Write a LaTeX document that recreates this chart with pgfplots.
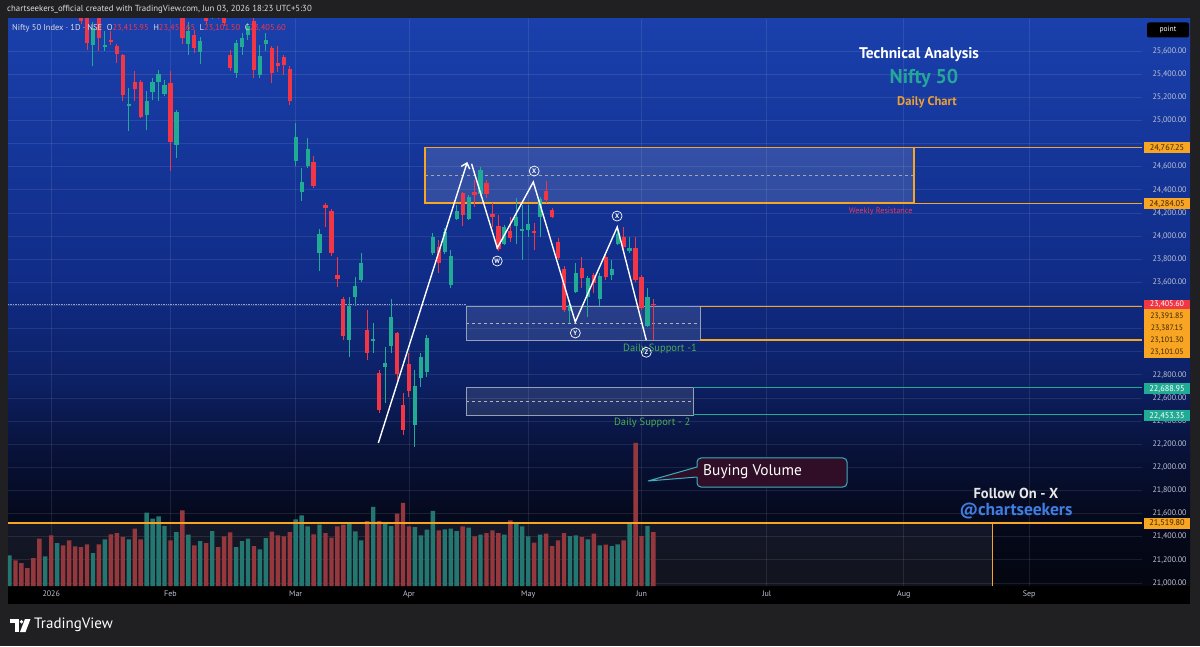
\documentclass[border=0pt]{standalone}
\usepackage{pgfplots}
\pgfplotsset{compat=1.18}
\usepackage{pgfplotstable}
\usepackage{fontspec}
\setmainfont{PT Sans}
\usetikzlibrary{arrows.meta}

\definecolor{outerbg}{RGB}{32,32,34}
\definecolor{cA}{RGB}{4,6,16}
\definecolor{cB}{RGB}{5,9,28}
\definecolor{cC}{RGB}{8,18,58}
\definecolor{cD}{RGB}{12,32,100}
\definecolor{cE}{RGB}{16,44,135}
\definecolor{cF}{RGB}{26,64,172}
\definecolor{axtext}{RGB}{190,195,210}
\definecolor{hdrtext}{RGB}{220,220,222}
\definecolor{upc}{RGB}{34,171,148}
\definecolor{dnc}{RGB}{242,54,69}
\definecolor{vup}{RGB}{36,118,112}
\definecolor{vdn}{RGB}{148,56,62}
\definecolor{tvorange}{RGB}{247,165,35}
\definecolor{tvteal}{RGB}{34,171,148}
\definecolor{labeldark}{RGB}{60,35,0}
\definecolor{supgreen}{RGB}{76,175,80}
\definecolor{wkred}{RGB}{230,60,90}
\definecolor{niftyteal}{RGB}{38,166,154}
\definecolor{dailyorange}{RGB}{240,160,50}
\definecolor{handle}{RGB}{64,125,225}
\definecolor{callfill}{RGB}{48,14,40}
\definecolor{callborder}{RGB}{60,175,195}
\definecolor{boxborder}{RGB}{150,160,180}

\pgfdeclareverticalshading{chartbg}{100bp}{color(0bp)=(cA); color(25bp)=(cA); color(31bp)=(cB); color(37bp)=(cC); color(43bp)=(cD); color(52bp)=(cE); color(75bp)=(cF); color(100bp)=(cF)}

% green candles: index, open, high, low, close
\pgfplotstableread{
i o h l c
14 25652 25851 25471 25799
16 25635 25773 25600 25652
20 25125 25280 24908 25142
23 25047 25254 24917 25168
24 25246 25367 25177 25332
25 25332 25436 25168 25401
26 25228 25349 25211 25306
28 24787 25090 24675 25073
30 25661 25851 25566 25773
32 25592 25721 25488 25687
34 25900 26100 25880 26050
38 25410 25695 25367 25669
39 25635 25756 25566 25713
40 25739 25842 25695 25816
42 25393 25652 25367 25557
43 25661 25756 25600 25695
48 24649 24978 24606 24857
49 24381 24588 24303 24467
50 24606 24848 24588 24753
52 23854 24061 23698 24018
57 23101 23473 22954 23395
58 23473 23646 23395 23568
59 23620 23854 23603 23767
61 23092 23248 22989 23110
63 22868 23041 22557 22902
64 23049 23456 22989 23300
68 22366 22842 22176 22704
69 22773 22989 22695 22954
70 22825 23144 22781 23118
71 23854 24027 23836 23992
73 23862 24070 23845 24035
74 23577 23879 23551 23827
75 24148 24269 24139 24217
77 24148 24355 24139 24338
79 24364 24597 24338 24571
83 23931 24096 23923 24078
85 24087 24329 23931 24165
86 24044 24269 23793 24061
87 24052 24269 23992 24104
89 24165 24338 23992 24321
94 23352 23447 23248 23404
95 23516 23767 23508 23681
97 23473 23655 23300 23637
99 23456 23681 23395 23655
101 23663 23793 23620 23715
102 23931 24052 23923 24018
104 23870 23992 23854 23897
107 23222 23551 23213 23473
}\upc

% red candles: index, open, high, low, close
\pgfplotstableread{
i o h l c
12 26050 26100 25830 25860
13 26000 26050 25609 25669
15 25950 26000 25600 25713
17 25695 25773 25652 25678
18 25643 25661 25496 25574
19 25566 25574 25168 25220
21 25332 25427 25168 25272
22 25332 25349 25021 25030
27 25324 25427 24563 24813
29 25950 26000 25661 25713
31 25739 25782 25583 25626
33 26000 26050 25834 25860
35 26050 26080 25880 25900
36 25950 26000 25816 25842
37 25566 25609 25427 25453
41 25860 25900 25367 25436
44 25626 25643 25324 25410
45 25496 25643 25419 25470
46 25548 25566 25393 25480
47 25445 25470 25133 25168
51 24640 24692 24416 24433
53 24269 24286 24078 24243
54 24217 24234 23828 23854
55 23663 23819 23559 23629
56 23456 23473 23101 23136
60 23188 23361 22928 22989
62 22816 22842 22470 22496
65 23162 23170 22755 22807
66 22539 22643 22280 22323
67 22894 22989 22608 22660
72 23905 23966 23681 23767
76 24372 24381 24087 24182
78 24381 24485 24251 24355
80 24459 24485 24329 24364
81 24191 24286 24078 24165
82 24087 24182 23871 23888
84 24044 24165 23948 23983
88 24044 24113 23879 24027
90 24390 24476 24286 24312
91 24225 24243 24156 24165
92 23948 23983 23793 23810
93 23715 23741 23343 23361
96 23724 23819 23551 23637
98 23663 23681 23508 23594
100 23819 23836 23620 23646
103 23992 24078 23879 23905
105 23897 23992 23603 23620
106 23646 23663 23361 23378
108 23415.95 23451.65 23101.50 23405.60
}\dnc

\pgfplotstableread{
i v
0 30.7
6 29.7
8 43
14 33
16 46.7
20 46.7
23 73.3
24 67.3
25 69.7
26 60
28 54
30 51.3
32 45
34 55
38 39
39 45
40 47.3
42 36.7
43 48
48 66.7
49 70.7
50 59.7
52 61.3
57 63.3
58 54.7
59 45.7
61 79
63 63.3
64 60
68 59
69 50.7
70 56.3
71 75
73 56.7
74 57.3
75 55
77 58.3
79 51.3
83 51.3
85 62.3
86 59.7
87 49.7
89 51.3
94 50
95 50.7
97 46.7
99 40.7
101 40
102 41.7
104 63
107 60
}\volup

\pgfplotstableread{
i v
1 25.7
2 23
3 18
4 28
5 47.3
7 50.7
9 40.7
10 45.7
11 39.7
12 39
13 41.7
15 41.7
17 51.7
18 53
19 49
21 57.3
22 46.7
27 45.7
29 75.7
31 40.7
33 43
35 39
36 49.7
37 53.7
41 40
44 54.3
45 50.7
46 49.7
47 54
51 51.7
53 53
54 48.3
55 59.7
56 61.3
60 65
62 65
65 72.3
66 83
67 59.7
72 55.7
76 59.7
78 49.7
80 53
81 55.7
82 53
84 65.7
88 43.3
90 52.3
91 40
92 45.7
93 53
96 49
98 52.3
100 41.3
103 45.7
105 143
106 50
108 54
}\voldn

\pgfplotsset{
  chartgeom/.style={at={(8pt,60pt)}, anchor=south west, scale only axis,
    width=1134pt, height=567pt, xmin=-0.25, xmax=189.94},
  candle/.style 2 args={only marks, mark=*, mark size=0.1pt,
    mark options={draw opacity=0, fill opacity=0},
    error bars/.cd, y dir=both, y explicit, error mark=none,
    error bar style={line width=#1, color=#2}},
}

\begin{document}
\begin{tikzpicture}[x=1pt,y=1pt]
\useasboundingbox (0,0) rectangle (1200,646);
\fill[outerbg] (0,0) rectangle (1200,646);
\shade[shading=chartbg] (8,60) rectangle (1190,627);
\fill[black] (8,42) rectangle (1190,60);

\node[anchor=west, font=\fontsize{8.8}{9}\selectfont, text=hdrtext, inner sep=0pt] at (7,637)
  {chartseekers\_official created with TradingView.com, Jun 03, 2026 18:23 UTC+5:30};

% Axis A: grid and tick labels (labels hidden under the price tags are left blank)
\begin{axis}[chartgeom, ymin=20974.1, ymax=25876.9,
  axis line style={draw=none}, major tick length=0pt, scaled y ticks=false,
  ytick={21000,21200,21400,21600,21800,22000,22200,22400,22600,22800,23000,23200,23400,23600,23800,24000,24200,24400,24600,24800,25000,25200,25400,25600},
  yticklabels={{21,000.00},{21,200.00},{21,400.00},{21,600.00},{21,800.00},{22,000.00},{22,200.00},{22,400.00},{22,600.00},{22,800.00},{},{},{},{23,600.00},{23,800.00},{24,000.00},{24,200.00},{24,400.00},{24,600.00},{},{25,000.00},{25,200.00},{25,400.00},{25,600.00}},
  yticklabel pos=right,
  yticklabel style={font=\fontsize{8}{9}\selectfont, text=axtext, anchor=west, xshift=7pt},
  xtick={7,27,48,67,87,106,127,150,171},
  xticklabels={2026,Feb,Mar,Apr,May,Jun,Jul,Aug,Sep},
  xticklabel style={font=\fontsize{8}{9}\selectfont, text=axtext, yshift=-1pt},
  grid=major, major grid style={white, opacity=0.09, line width=0.8pt}]
\fill[white, fill opacity=0.06] (axis cs:-0.25,20974.1) rectangle (axis cs:164.8,21519.8);
\end{axis}

% Axis B: volume
\begin{axis}[chartgeom, ymin=0, ymax=567, hide axis, ybar, bar width=4.4pt]
\addplot[fill=vup, draw=none, bar shift=0pt] table[x=i,y=v] {\volup};
\addplot[fill=vdn, draw=none, bar shift=0pt] table[x=i,y=v] {\voldn};
\end{axis}

% Axis C: price
\begin{axis}[chartgeom, ymin=20974.1, ymax=25876.9, hide axis, clip mode=individual]
% resistance zone
\fill[white, fill opacity=0.13] (axis cs:69.7,24284.05) rectangle (axis cs:151.7,24767.25);
\draw[gray!70, dashed, line width=0.7pt] (axis cs:69.7,24525.65) -- (axis cs:151.7,24525.65);
\draw[tvorange, line width=1.5pt] (axis cs:69.7,24284.05) rectangle (axis cs:151.7,24767.25);
\draw[tvorange, line width=0.9pt] (axis cs:151.7,24767.25) -- (axis cs:189.94,24767.25);
\draw[tvorange, line width=0.9pt] (axis cs:151.7,24284.05) -- (axis cs:189.94,24284.05);
\node[anchor=east, font=\fontsize{8.2}{9}\selectfont, text=wkred, inner sep=0pt] at (axis cs:151.5,24214) {Weekly Resistance};
% support 1
\fill[white, fill opacity=0.10] (axis cs:76.6,23101.3) rectangle (axis cs:115.8,23391.85);
\draw[gray!60, dashed, line width=0.7pt] (axis cs:76.6,23246.6) -- (axis cs:115.8,23246.6);
\draw[boxborder, line width=0.8pt] (axis cs:76.6,23101.3) rectangle (axis cs:115.8,23391.85);
\draw[tvorange, line width=1.2pt] (axis cs:115.8,23391.85) -- (axis cs:189.94,23391.85);
\draw[tvorange, line width=1.2pt] (axis cs:115.8,23101.3) -- (axis cs:189.94,23101.3);
\draw[white, opacity=0.55, densely dotted, line width=0.7pt] (axis cs:-0.25,23405.6) -- (axis cs:76.6,23405.6);
\node[font=\fontsize{10.5}{11}\selectfont, text=supgreen, inner sep=0pt] at (axis cs:109.1,23023) {Daily Support -1};
% support 2
\fill[white, fill opacity=0.10] (axis cs:76.6,22453.35) rectangle (axis cs:114.7,22688.95);
\draw[gray!60, dashed, line width=0.7pt] (axis cs:76.6,22571.15) -- (axis cs:114.7,22571.15);
\draw[boxborder, line width=0.8pt] (axis cs:76.6,22453.35) rectangle (axis cs:114.7,22688.95);
\draw[tvteal, line width=1.1pt] (axis cs:114.7,22688.95) -- (axis cs:189.94,22688.95);
\draw[tvteal, line width=1.1pt] (axis cs:114.7,22453.35) -- (axis cs:189.94,22453.35);
\node[font=\fontsize{10.5}{11}\selectfont, text=supgreen, inner sep=0pt] at (axis cs:107.8,22383.6) {Daily Support - 2};
% volume reference line
\draw[tvorange, line width=1.6pt] (axis cs:-0.25,21519.8) -- (axis cs:189.94,21519.8);
\draw[tvorange, line width=1pt] (axis cs:164.8,20974.1) -- (axis cs:164.8,21519.8);

% candles: wicks
\addplot[candle={1pt}{upc}]
  table[x=i, y expr={(\thisrow{h}+\thisrow{l})/2}, y error expr={(\thisrow{h}-\thisrow{l})/2}] {\upc};
\addplot[candle={1pt}{dnc}]
  table[x=i, y expr={(\thisrow{h}+\thisrow{l})/2}, y error expr={(\thisrow{h}-\thisrow{l})/2}] {\dnc};
% candles: bodies
\addplot[candle={4.2pt}{upc}]
  table[x=i, y expr={(\thisrow{o}+\thisrow{c})/2}, y error expr={(\thisrow{c}-\thisrow{o})/2}] {\upc};
\addplot[candle={4.2pt}{dnc}]
  table[x=i, y expr={(\thisrow{o}+\thisrow{c})/2}, y error expr={(\thisrow{o}-\thisrow{c})/2}] {\dnc};

% wave lines
\addplot[white, line width=1.4pt, -{Straight Barb[length=5pt,width=9pt]}] coordinates {(61.86,22210.7) (76.78,24640.4)};
\addplot[white, line width=1.4pt] coordinates {(77.5,24625) (81.81,23896.7) (87.85,24467.4) (94.89,23256.9) (101.93,24078.3) (106.79,23101.2)};
\tikzset{wave/.style={circle, draw=white, line width=0.7pt, inner sep=0pt, minimum size=10pt, text=white, font=\fontsize{6.5}{7}\selectfont\bfseries}}
\node[wave] at (axis cs:81.8,23784) {W};
\node[wave] at (axis cs:88.0,24562) {X};
\node[wave] at (axis cs:94.9,23162) {Y};
\node[wave] at (axis cs:101.9,24173) {X};
\node[wave] at (axis cs:106.8,22995) {Z};
\end{axis}

% OHLC legend line
\node[anchor=west, inner sep=0pt, font=\fontsize{8.5}{9}\selectfont] at (12,618)
 {\color{hdrtext}Nifty 50 Index · 1D · NSE\ \ O\color{dnc}23,415.95\ \ \color{hdrtext}H\color{dnc}23,451.65\ \ \color{hdrtext}L\color{dnc}23,101.50\ \ \color{hdrtext}C\color{dnc}23,405.60};

% point box
\node[fill=black, rounded corners=2pt, text=white, font=\fontsize{7.5}{8}\selectfont, minimum width=42pt, minimum height=15pt, inner sep=0pt] at (1168,616) {point};

% price labels on the right
\tikzset{plab/.style={minimum width=46pt, minimum height=11pt, inner sep=0pt, font=\fontsize{8.3}{9}\selectfont},
         slab/.style={inner sep=0pt, font=\fontsize{7.8}{8}\selectfont, text=labeldark}}
\node[plab, fill=tvorange, text=labeldark] at (1167,498) {24,767.25};
\node[plab, fill=tvorange, text=labeldark] at (1167,442) {24,284.05};
\node[plab, fill=dnc, text=white, minimum height=9.5pt, font=\fontsize{8}{8}\selectfont] at (1167,341.5) {23,405.60};
\fill[tvorange] (1144,288) rectangle (1190,336.5);
\node[slab] at (1167,329.3) {23,391.85};
\node[slab] at (1167,317.5) {23,387.15};
\node[slab] at (1167,305.7) {23,101.30};
\node[slab] at (1167,293.9) {23,101.05};
\node[plab, fill=tvteal, text=white] at (1167,257) {22,688.95};
\node[plab, fill=tvteal, text=white] at (1167,230) {22,453.35};
\node[plab, fill=tvorange, text=labeldark] at (1167,122.5) {21,519.80};

% titles
\node[font=\fontsize{15.5}{16}\selectfont\bfseries, text=white] at (919,591) {Technical Analysis};
\node[font=\fontsize{20}{22}\selectfont\bfseries, text=niftyteal] at (924,568) {Nifty 50};
\node[font=\fontsize{12.5}{13}\selectfont\bfseries, text=dailyorange] at (927,544) {Daily Chart};
\node[font=\fontsize{14.5}{15}\selectfont\bfseries, text=white!82!gray] at (1016,153) {Follow On - X};
\node[font=\fontsize{17.5}{18}\selectfont\bfseries, text=handle] at (1016,135) {@chartseekers};

% callout
\draw[fill=callfill, draw=callborder, line width=1pt, rounded corners=4pt] (697,159) rectangle (847,188);
\fill[callfill] (699,169) -- (648,165) -- (699,179) -- cycle;
\draw[callborder, line width=1pt] (697,169) -- (648,165) -- (697,179);
\node[anchor=west, font=\fontsize{15.4}{16}\selectfont, text=white, inner sep=0pt] at (703,174) {Buying Volume};

% TradingView logo
\fill[white] (10,27) rectangle (18.5,23.5);
\fill[white] (14.5,23.5) rectangle (18.5,14);
\fill[white] (21.5,24.2) circle (1.9);
\fill[white] (25,27) -- (30.5,27) -- (25.5,14) -- (20,14) -- cycle;
\node[anchor=west, font=\fontsize{15}{16}\selectfont, text=white, inner sep=0pt] at (34,21) {TradingView};
\end{tikzpicture}
\end{document}
